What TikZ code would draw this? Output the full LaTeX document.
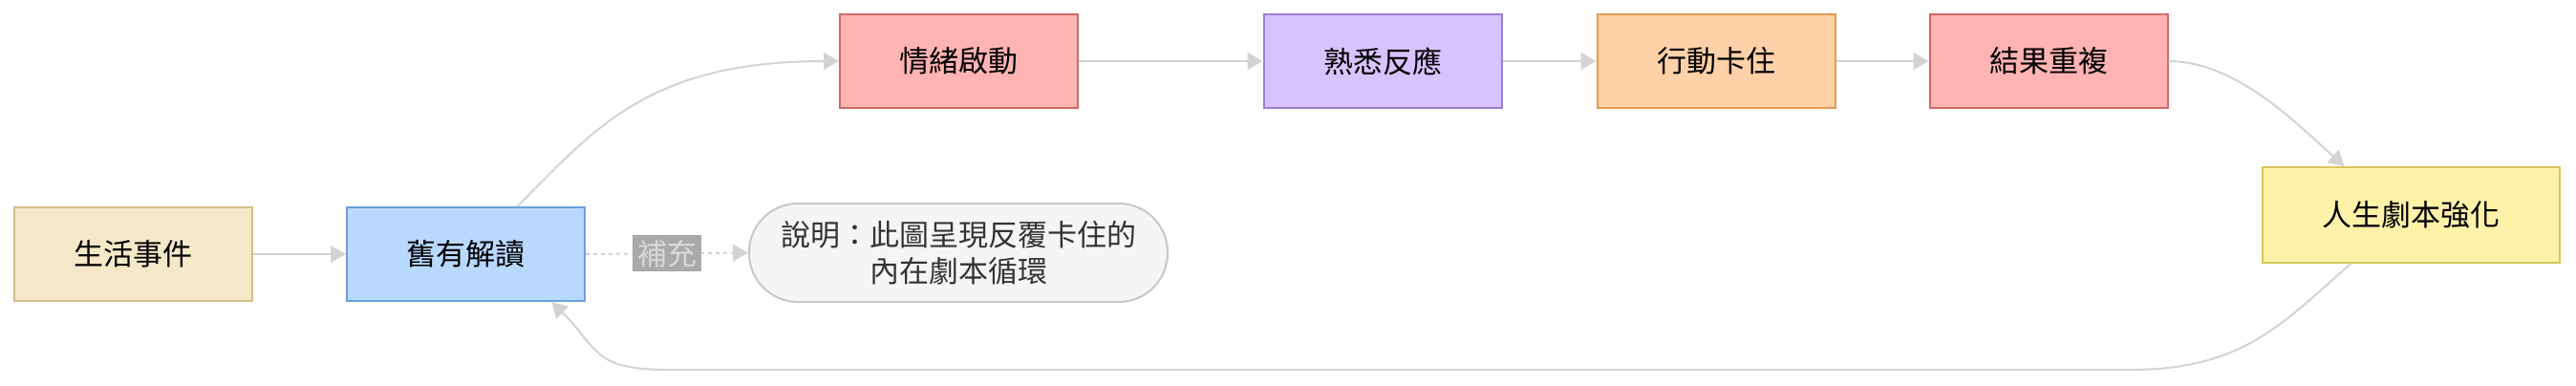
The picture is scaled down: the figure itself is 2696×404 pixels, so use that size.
\documentclass[tikz,border=0pt]{standalone}
\usepackage{fontspec}
\setmainfont{Noto Sans CJK TC}
\usetikzlibrary{arrows.meta}

\definecolor{lifefill}{HTML}{F5E8C9}
\definecolor{lifedraw}{HTML}{D2BC88}
\definecolor{viewfill}{HTML}{B9D8FE}
\definecolor{viewdraw}{HTML}{6A9FDE}
\definecolor{hotfill}{HTML}{FFB3B3}
\definecolor{hotdraw}{HTML}{D06868}
\definecolor{habitfill}{HTML}{D9C3FE}
\definecolor{habitdraw}{HTML}{9D7DD8}
\definecolor{stuckfill}{HTML}{FFD1A8}
\definecolor{stuckdraw}{HTML}{E8994E}
\definecolor{scriptfill}{HTML}{FFF1A8}
\definecolor{scriptdraw}{HTML}{D8C65A}
\definecolor{notefill}{HTML}{F5F5F5}
\definecolor{notedraw}{HTML}{C8C8C8}
\definecolor{edgegray}{HTML}{D3D3D3}
\definecolor{tagfill}{HTML}{A9A9A9}
\definecolor{tagtext}{HTML}{D9D9D9}

\begin{document}
\begin{tikzpicture}[
        x=1pt, y=1pt,
        font=\fontsize{31}{38}\selectfont,
        >=Triangle,
        lifebox/.style={draw=lifedraw, fill=lifefill, line width=2pt, align=center, minimum width=249pt, minimum height=98pt, inner sep=0pt},
        viewbox/.style={draw=viewdraw, fill=viewfill, line width=2pt, align=center, minimum width=249pt, minimum height=98pt, inner sep=0pt},
        hotbox/.style={draw=hotdraw, fill=hotfill, line width=2pt, align=center, minimum width=249pt, minimum height=98pt, inner sep=0pt},
        habitbox/.style={draw=habitdraw, fill=habitfill, line width=2pt, align=center, minimum width=249pt, minimum height=98pt, inner sep=0pt},
        stuckbox/.style={draw=stuckdraw, fill=stuckfill, line width=2pt, align=center, minimum width=249pt, minimum height=98pt, inner sep=0pt},
        scriptbox/.style={draw=scriptdraw, fill=scriptfill, line width=2pt, align=center, minimum width=311pt, minimum height=100pt, inner sep=0pt},
        notebox/.style={draw=notedraw, fill=notefill, text=black!80, line width=2pt, align=center, rounded corners=51pt, minimum width=438pt, minimum height=103pt, inner sep=0pt},
        tag/.style={fill=tagfill, text=tagtext, inner xsep=5pt, inner ysep=0pt, minimum height=38pt},
        link/.style={draw=edgegray, line width=2pt, -{Triangle[length=16pt,width=18pt]}},
        notelink/.style={draw=edgegray, line width=2pt, dash pattern=on 4pt off 4pt, -{Triangle[length=16pt,width=18pt]}}
    ]
        \useasboundingbox (0,0) rectangle (2696,-404);

        \node[lifebox] (life) at (139,-266) {生活事件};
        \node[viewbox] (oldview) at (487.5,-266) {舊有解讀};
        \node[hotbox] (emotion) at (1003.5,-64) {情緒啟動};
        \node[habitbox] (familiar) at (1447,-64) {熟悉反應};
        \node[stuckbox] (stuck) at (1796,-64) {行動卡住};
        \node[hotbox] (repeat) at (2144,-64) {結果重複};
        \node[scriptbox] (script) at (2523.5,-225) {人生劇本強化};
        \node[notebox] (note) at (1003,-264.5) {說明：此圖呈現反覆卡住的\\內在劇本循環};

        \coordinate (loopR) at (2230,-387);
        \coordinate (loopL) at (700,-387);

        \draw[link] (life) -- (oldview);
        \draw[link] ([xshift=54pt]oldview.north) .. controls +(80,80) and +(-200,0) .. (emotion.west);
        \draw[link] (emotion) -- (familiar);
        \draw[link] (familiar) -- (stuck);
        \draw[link] (stuck) -- (repeat);
        \draw[link] (repeat.east) .. controls +(70,0) and +(-50,45) .. ([xshift=-70pt]script.north);
        \draw[link] ([xshift=-63pt]script.south) .. controls +(-70,-60) and +(120,0) .. (loopR) -- (loopL) .. controls +(-80,0) and +(50,-50) .. ([xshift=90pt]oldview.south);
        \draw[notelink] (oldview.east) -- node[tag] {補充} (note.west);
    \end{tikzpicture}
\end{document}
